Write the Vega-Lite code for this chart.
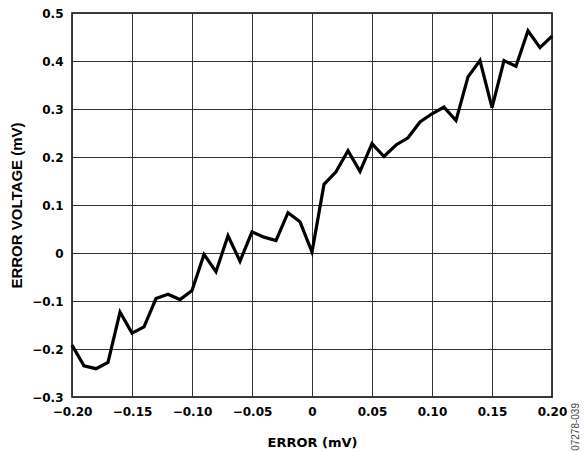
{
  "$schema": "https://vega.github.io/schema/vega-lite/v6.json",
  "autosize": {"type": "none"},
  "padding": {"left": 72, "top": 13, "right": 33, "bottom": 55},
  "width": 480,
  "height": 384,
  "background": "white",
  "title": {"text": "07278-039", "orient": "right", "anchor": "end", "frame": "group", "angle": -90, "fontSize": 10, "fontWeight": "normal", "font": "Liberation Sans", "color": "#444", "offset": -6, "dx": -6},
  "config": {
    "view": {"stroke": "black", "strokeWidth": 1.5},
    "axis": {"labelFont": "DejaVu Sans", "titleFont": "DejaVu Sans", "labelFontWeight": "bold", "titleFontWeight": "bold", "labelColor": "black", "titleColor": "black", "labelFontSize": 12, "titleFontSize": 13, "ticks": false, "domain": false, "gridColor": "#333", "gridWidth": 1, "gridOpacity": 1, "labelFlush": false, "labelOverlap": false, "labelBound": false}
  },
  "data": {"values": [
    {"x": -0.20, "y": -0.192}, {"x": -0.19, "y": -0.235}, {"x": -0.18, "y": -0.241}, {"x": -0.17, "y": -0.228},
    {"x": -0.16, "y": -0.123}, {"x": -0.15, "y": -0.167}, {"x": -0.14, "y": -0.154}, {"x": -0.13, "y": -0.095},
    {"x": -0.12, "y": -0.086}, {"x": -0.11, "y": -0.097}, {"x": -0.10, "y": -0.078}, {"x": -0.09, "y": -0.003},
    {"x": -0.08, "y": -0.039}, {"x": -0.07, "y": 0.036}, {"x": -0.06, "y": -0.017}, {"x": -0.05, "y": 0.044},
    {"x": -0.04, "y": 0.033}, {"x": -0.03, "y": 0.026}, {"x": -0.02, "y": 0.084}, {"x": -0.01, "y": 0.065},
    {"x": 0.00, "y": 0.002}, {"x": 0.01, "y": 0.143}, {"x": 0.02, "y": 0.169}, {"x": 0.03, "y": 0.213},
    {"x": 0.04, "y": 0.170}, {"x": 0.05, "y": 0.228}, {"x": 0.06, "y": 0.201}, {"x": 0.07, "y": 0.225},
    {"x": 0.08, "y": 0.240}, {"x": 0.09, "y": 0.273}, {"x": 0.10, "y": 0.290}, {"x": 0.11, "y": 0.304},
    {"x": 0.12, "y": 0.276}, {"x": 0.13, "y": 0.367}, {"x": 0.14, "y": 0.401}, {"x": 0.15, "y": 0.303},
    {"x": 0.16, "y": 0.401}, {"x": 0.17, "y": 0.389}, {"x": 0.18, "y": 0.463}, {"x": 0.19, "y": 0.428},
    {"x": 0.20, "y": 0.452}
  ]},
  "mark": {"type": "line", "color": "black", "strokeWidth": 3.2, "strokeJoin": "miter", "strokeMiterLimit": 4},
  "encoding": {
    "x": {"field": "x", "type": "quantitative", "scale": {"domain": [-0.2, 0.2], "nice": false, "zero": false},
      "axis": {"title": "ERROR (mV)", "values": [-0.2, -0.15, -0.1, -0.05, 0, 0.05, 0.1, 0.15, 0.2], "labelExpr": "datum.value == 0 ? '0' : format(datum.value, '.2f')", "labelPadding": 9, "titlePadding": 19}},
    "y": {"field": "y", "type": "quantitative", "scale": {"domain": [-0.3, 0.5], "nice": false},
      "axis": {"title": "ERROR VOLTAGE (mV)", "titleFont": "Liberation Sans", "titleFontSize": 15, "values": [-0.3, -0.2, -0.1, 0, 0.1, 0.2, 0.3, 0.4, 0.5], "labelExpr": "datum.value == 0 ? '0' : format(datum.value, '.1f')", "labelPadding": 9, "titlePadding": 7}}
  }
}
